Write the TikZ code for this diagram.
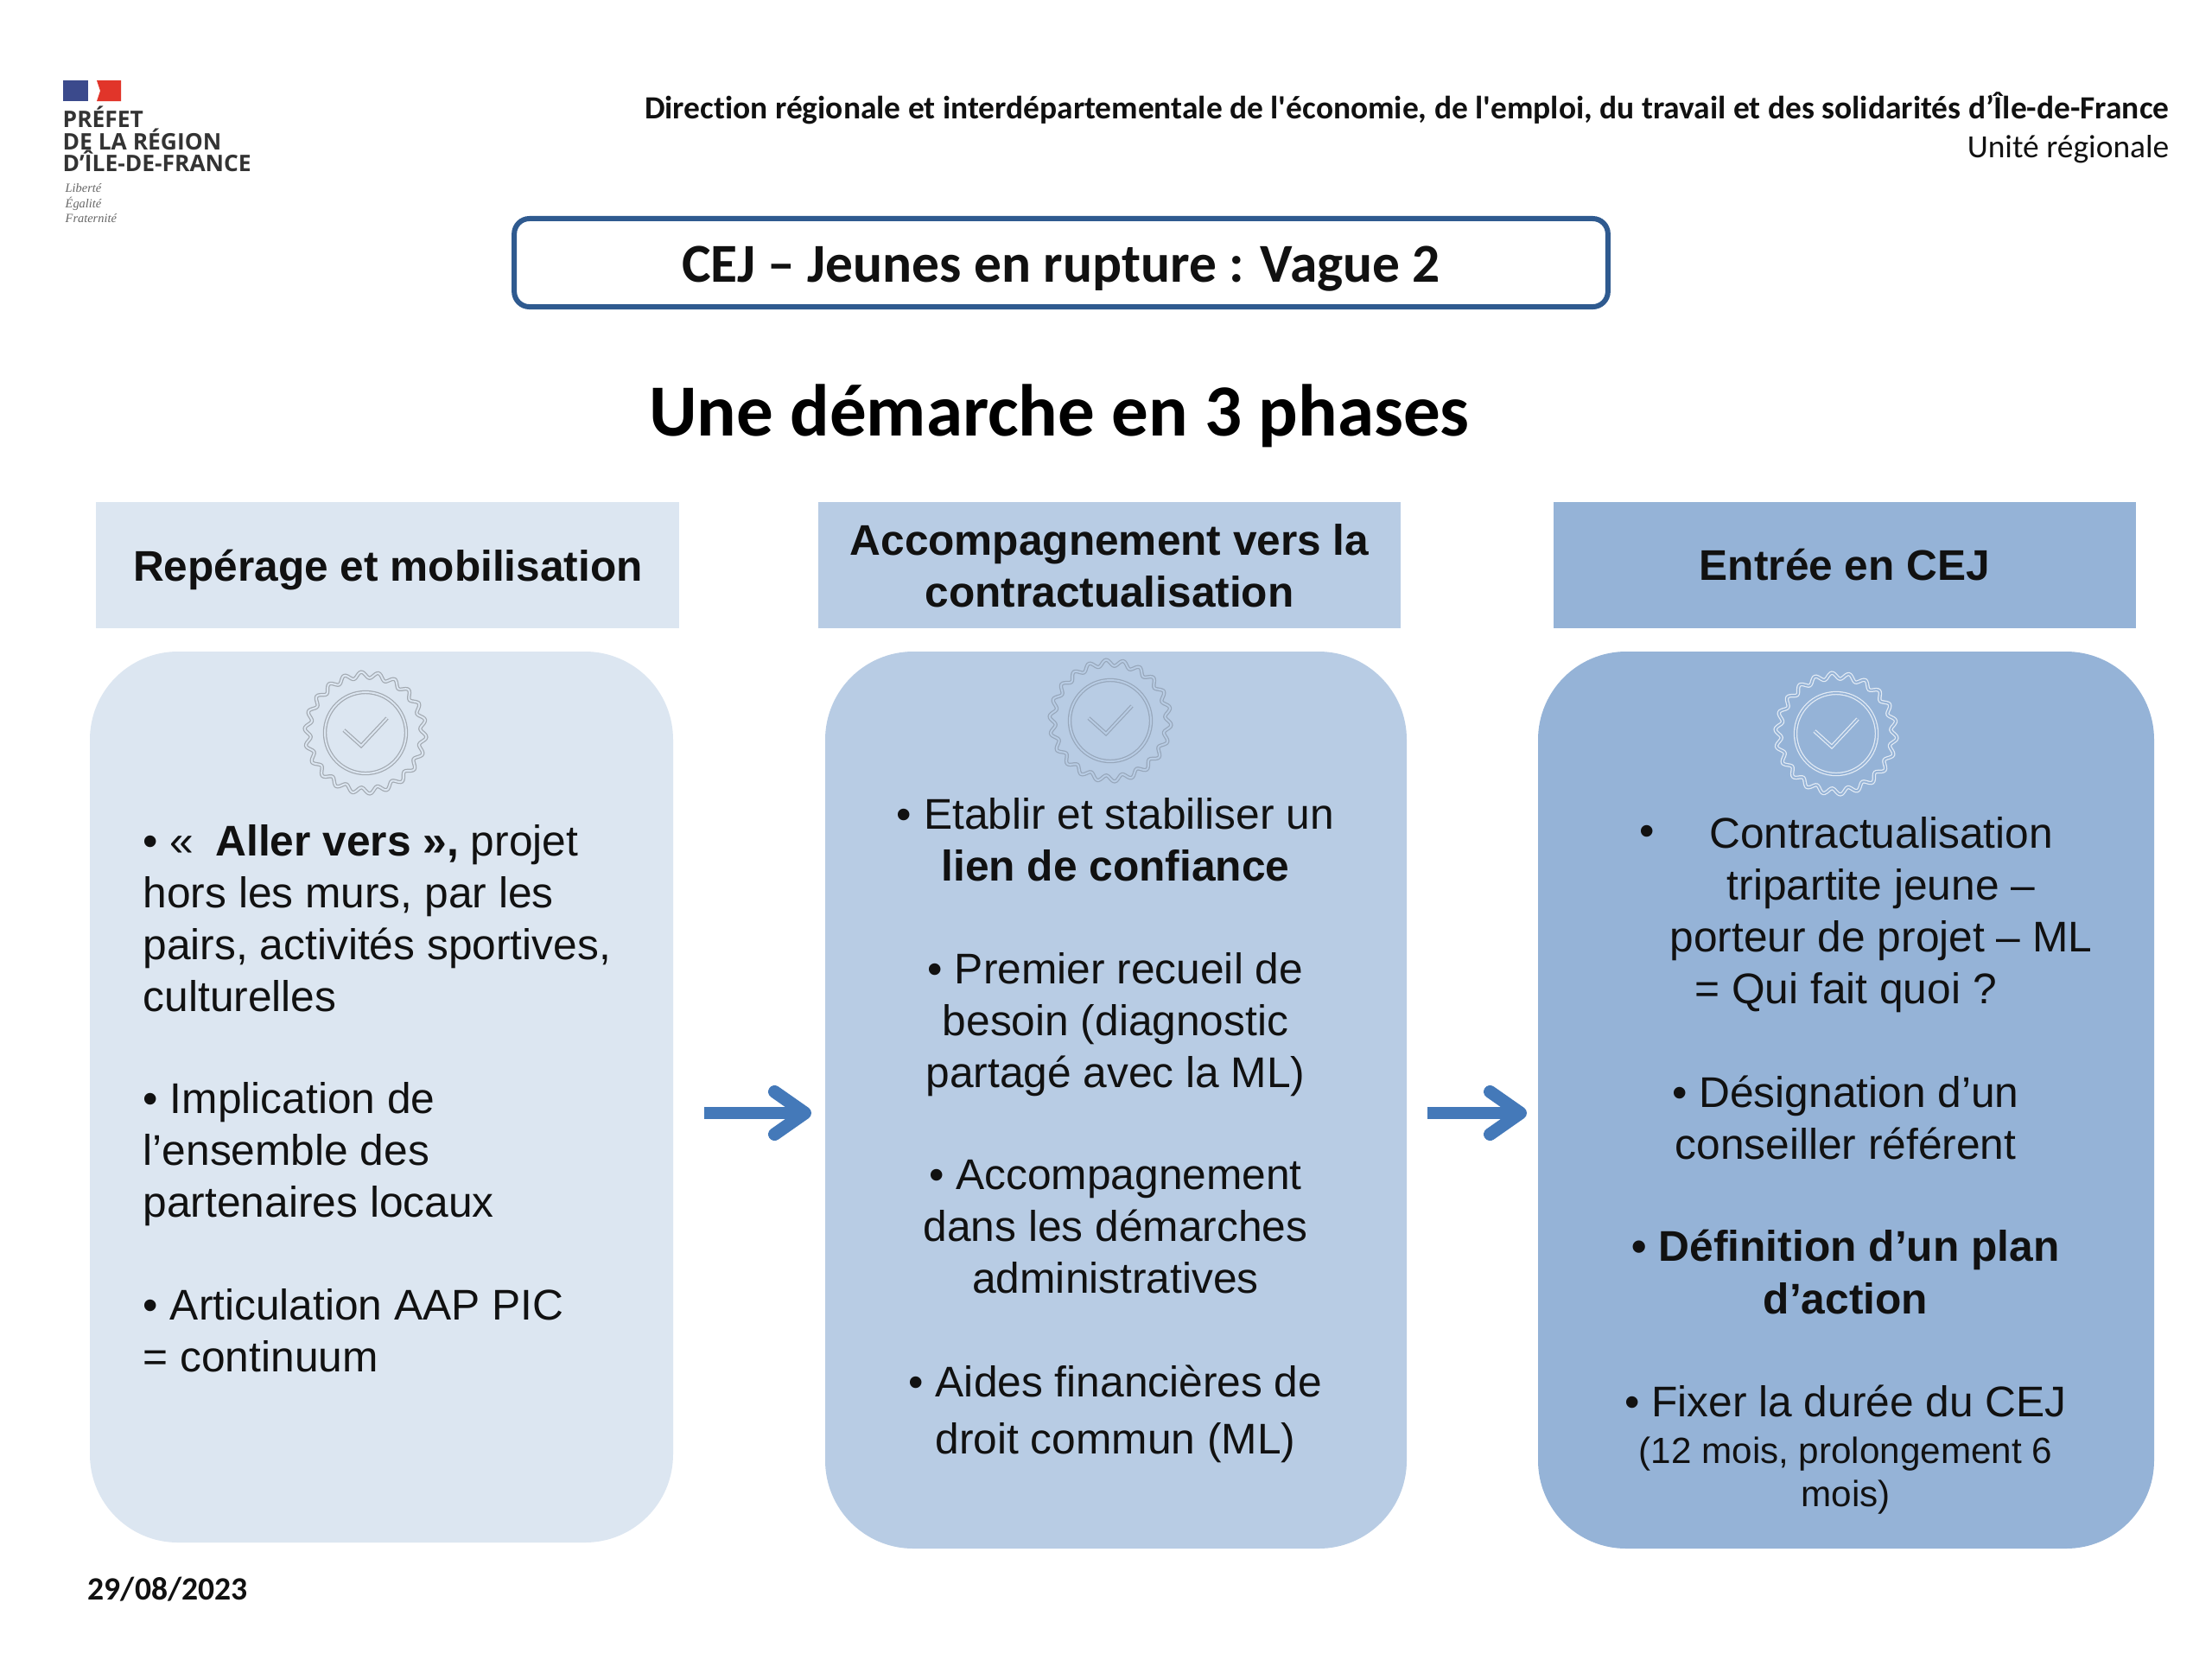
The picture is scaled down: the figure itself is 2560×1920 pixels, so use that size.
\documentclass[tikz,border=0pt]{standalone}
\usepackage{fontspec}
\setmainfont{Liberation Sans}
\newfontfamily\carl[Ligatures=NoCommon]{Carlito}
\newfontfamily\logof{Open Sans}
\newfontfamily\serifl{Liberation Serif}
\usetikzlibrary{arrows.meta}
\definecolor{cA}{HTML}{DCE6F1}
\definecolor{cB}{HTML}{B8CCE4}
\definecolor{cC}{HTML}{95B3D7}
\definecolor{frameblue}{HTML}{2F5A8F}
\definecolor{arrowblue}{HTML}{4479B9}
\definecolor{txt}{HTML}{111111}
\definecolor{flagblue}{HTML}{3B4A8C}
\definecolor{flagred}{HTML}{E1352A}
\newcommand\sealmark[4]{% cx cy bg stroke
  \draw[draw=#4,double=#3,line width=.35pt,double distance=.55pt,variable=\t,domain=0:360,samples=265,smooth]
    plot ({#1+(67+3.5*sin(22*\t))*cos(\t)},{#2+(67+3.5*sin(22*\t))*sin(\t)}) -- cycle;
  \draw[draw=#4,double=#3,line width=.35pt,double distance=.55pt] (#1,#2) circle[radius=47];
  \draw[draw=#4,double=#3,line width=.35pt,double distance=.55pt,line join=miter]
    (#1-25,#2-3) -- (#1-5,#2+15) -- (#1+25,#2-17);
}
\tikzset{
  x=0.01cm,y=-0.01cm,
  headbox/.style={inner sep=0,text=txt,font=\fontsize{14.1}{17}\selectfont\bfseries,align=center},
  bigbox/.style={rounded corners=29pt},
  body/.style={inner sep=0,text=txt,font=\fontsize{14.13}{17}\selectfont},
  flow/.style={draw=arrowblue,line width=4.2pt,-{Straight Barb[round,length=10pt,width=14pt]}},
  logotext/.style={anchor=base west,inner sep=0,font=\logof\fontsize{7.5}{8}\selectfont\bfseries,text=black!80},
  mottotext/.style={anchor=base west,inner sep=0,font=\serifl\itshape\fontsize{4.1}{5}\selectfont,text=black!60},
}
\begin{document}
\begin{tikzpicture}
\useasboundingbox (0,0) rectangle (2560,1920);
\fill[white] (0,0) rectangle (2560,1920);
% logo
\fill[flagblue] (73,93) rectangle (102,117);
\fill[flagred] (112,93) -- (140,93) -- (140,117) -- (112,117) -- (116,105) -- cycle;
\node[logotext] (l1) at (72,147) {PRÉFET};
\node[logotext] (l2) at (72,173) {DE LA RÉGION};
\node[logotext] (l3) at (72,198) {D’ÎLE-DE-FRANCE};
\node[mottotext] (m1) at (75,222) {Liberté};
\node[mottotext] (m2) at (75,240) {Égalité};
\node[mottotext] (m3) at (75,257) {Fraternité};
% header
\node[anchor=base east,inner sep=0,font=\carl\bfseries\fontsize{10.65}{12}\selectfont,text=txt] (dir) at (2511,137) {Direction régionale et interdépartementale de l'économie, de l'emploi, du travail et des solidarités d’Île-de-France};
\node[anchor=base east,inner sep=0,font=\carl\fontsize{10.65}{12}\selectfont,text=txt] (unit) at (2511,182) {Unité régionale};
% title
\node[draw=frameblue,line width=1.7pt,rounded corners=5pt,inner sep=0,fill=white,
  minimum width=12.65cm,minimum height=1.02cm,text=txt,font=\carl\bfseries\fontsize{18.04}{20}\selectfont,text height=15pt,text depth=2pt] (cej) at (1228,304) {CEJ – Jeunes en rupture : Vague 2};
\node[inner sep=0,text=black,font=\carl\bfseries\fontsize{24.2}{28}\selectfont] (une) at (1226,481) {Une démarche en 3 phases};
\node[inner sep=0,anchor=base west,font=\carl\bfseries\fontsize{10.7}{12}\selectfont,text=txt] (date) at (101,1851) {29/08/2023};
% column headers
\fill[cA] (111,581) rectangle (786,727);
\fill[cB] (947,581) rectangle (1621,727);
\fill[cC] (1798,581) rectangle (2472,727);
\node[headbox] (h1) at (449,660) {Repérage et mobilisation};
\node[headbox] (h2) at (1284,655) {Accompagnement vers la\\contractualisation};
\node[headbox] (h3) at (2135,654) {Entrée en CEJ};
% panels
\fill[cA,bigbox] (104,754) rectangle (779,1785);
\fill[cB,bigbox] (955,754) rectangle (1628,1792);
\fill[cC,bigbox] (1780,754) rectangle (2493,1792);
\coordinate (p1) at (815,1288);
\coordinate (p1e) at (939,1288);
\coordinate (p2) at (1652,1288);
\coordinate (p2e) at (1767,1288);
\draw[flow] (p1) -- (p1e);
\draw[flow] (p2) -- (p2e);
\sealmark{423}{848}{cA}{black!26!cA}
\sealmark{1285}{834}{cB}{black!18!cB}
\sealmark{2125}{849}{cC}{white!75!cC}
% col 1
\node[body,anchor=north west,align=left] (a1) at (165,954) {• «\hspace{.5em}\textbf{Aller vers »,} projet\\hors les murs, par les\\pairs, activités sportives,\\culturelles};
\node[body,anchor=north west,align=left] (a2) at (165,1252) {• Implication de\\l’ensemble des\\partenaires locaux};
\node[body,anchor=north west,align=left] (a3) at (165,1491) {• Articulation AAP PIC\\= continuum};
% col 2
\node[body,anchor=north,align=center] (b1) at (1291,923) {• Etablir et stabiliser un\\\textbf{lien de confiance}};
\node[body,anchor=north,align=center] (b2) at (1291,1102) {• Premier recueil de\\besoin (diagnostic\\partagé avec la ML)};
\node[body,anchor=north,align=center] (b3) at (1291,1342) {• Accompagnement\\dans les démarches\\administratives};
\node[body,anchor=north,align=center,font=\fontsize{14.13}{18.8}\selectfont] (b4) at (1291,1579) {• Aides financières de\\droit commun (ML)};
% col 3
\node[body,anchor=center] (c0) at (1906,967) {•};
\node[body,anchor=north,align=center] (c1) at (2177,945) {Contractualisation\\tripartite jeune –\\porteur de projet – ML};
\node[body,anchor=north] (c2) at (2136,1125) {= Qui fait quoi ?};
\node[body,anchor=north,align=center] (c3) at (2136,1244) {• Désignation d’un\\conseiller référent};
\node[body,anchor=north,align=center,font=\fontsize{14.13}{17.4}\selectfont\bfseries] (c4) at (2136,1422) {• Définition d’un plan\\d’action};
\node[body,anchor=north] (c5) at (2136,1602) {• Fixer la durée du CEJ};
\node[body,anchor=north,align=center,font=\fontsize{12}{14.4}\selectfont] (c6) at (2136,1662) {(12 mois, prolongement 6\\mois)};
\end{tikzpicture}
\end{document}
